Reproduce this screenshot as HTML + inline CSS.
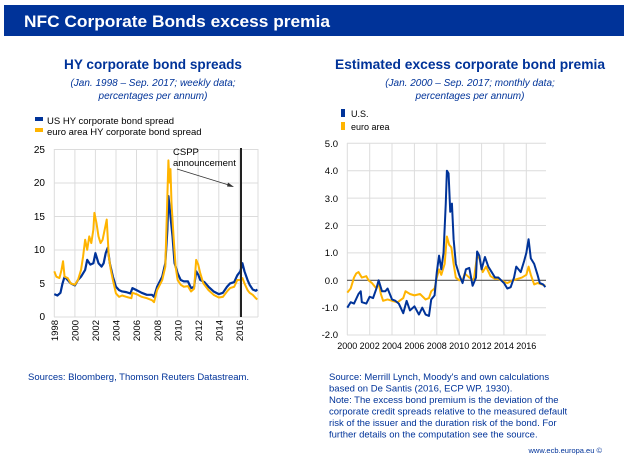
<!DOCTYPE html>
<html><head><meta charset="utf-8"><style>
body{margin:0;background:#fff;width:628px;height:465px;overflow:hidden}
svg{display:block;font-family:"Liberation Sans",sans-serif}
</style></head><body>
<svg width="628" height="465" viewBox="0 0 628 465">
<rect x="4" y="5" width="620" height="31" fill="#003399"/>
<text x="24" y="27" fill="#fff" font-size="17" font-weight="bold" textLength="306" lengthAdjust="spacingAndGlyphs">NFC Corporate Bonds excess premia</text>
<g fill="#003399" text-anchor="middle">
<text x="153" y="69" font-size="14" font-weight="bold" textLength="178" lengthAdjust="spacingAndGlyphs">HY corporate bond spreads</text>
<text x="153" y="86" font-size="10" font-style="italic">(Jan. 1998 – Sep. 2017; weekly data;</text>
<text x="153" y="99" font-size="10" font-style="italic">percentages per annum)</text>
<text x="470" y="69" font-size="14" font-weight="bold" textLength="270" lengthAdjust="spacingAndGlyphs">Estimated excess corporate bond premia</text>
<text x="470" y="86" font-size="10" font-style="italic">(Jan. 2000 – Sep. 2017; monthly data;</text>
<text x="470" y="99" font-size="10" font-style="italic">percentages per annum)</text>
</g>
<rect x="35" y="117" width="8" height="4" fill="#003399"/>
<text x="47" y="124" font-size="9.5" fill="#000">US HY corporate bond spread</text>
<rect x="35" y="128" width="8" height="4" fill="#ffb400"/>
<text x="47" y="135" font-size="9.5" fill="#000">euro area HY corporate bond spread</text>
<g stroke="#dcdcdc" stroke-width="1">
<line x1="54" y1="149.5" x2="258" y2="149.5"/><line x1="54" y1="183" x2="258" y2="183"/><line x1="54" y1="216.5" x2="258" y2="216.5"/><line x1="54" y1="250" x2="258" y2="250"/><line x1="54" y1="283.5" x2="258" y2="283.5"/><line x1="54" y1="317" x2="258" y2="317"/>
<line x1="54.3" y1="149" x2="54.3" y2="317"/><line x1="74.9" y1="149" x2="74.9" y2="317"/><line x1="95.4" y1="149" x2="95.4" y2="317"/><line x1="116" y1="149" x2="116" y2="317"/><line x1="136.5" y1="149" x2="136.5" y2="317"/><line x1="157.1" y1="149" x2="157.1" y2="317"/><line x1="177.7" y1="149" x2="177.7" y2="317"/><line x1="198.2" y1="149" x2="198.2" y2="317"/><line x1="218.8" y1="149" x2="218.8" y2="317"/><line x1="239.3" y1="149" x2="239.3" y2="317"/><line x1="258" y1="149" x2="258" y2="317"/>
</g>
<g font-size="10" fill="#000" text-anchor="end">
<text x="45" y="153">25</text><text x="45" y="186">20</text><text x="45" y="220">15</text><text x="45" y="253">10</text><text x="45" y="287">5</text><text x="45" y="320">0</text>
</g>
<g font-size="9.5" fill="#000" text-anchor="end">
<text transform="translate(58,320) rotate(-90)">1998</text><text transform="translate(78.6,320) rotate(-90)">2000</text><text transform="translate(99.1,320) rotate(-90)">2002</text><text transform="translate(119.7,320) rotate(-90)">2004</text><text transform="translate(140.2,320) rotate(-90)">2006</text><text transform="translate(160.8,320) rotate(-90)">2008</text><text transform="translate(181.4,320) rotate(-90)">2010</text><text transform="translate(201.9,320) rotate(-90)">2012</text><text transform="translate(222.5,320) rotate(-90)">2014</text><text transform="translate(243,320) rotate(-90)">2016</text>
</g>
<g transform="translate(54.3,317) scale(10.28,-6.72)" fill="none" stroke-linejoin="round">
<polyline vector-effect="non-scaling-stroke" stroke="#003399" stroke-width="2.2" points="0,3.4 0.3,3.2 0.6,3.6 0.8,5 1.0,6 1.3,5.5 1.6,5 2,4.7 2.3,5.5 2.6,6 3,7 3.2,8.5 3.5,7.8 3.8,8 4.0,9.5 4.3,8 4.6,7.5 4.8,8 5,9.5 5.2,10.3 5.4,8 5.7,6 6,4.5 6.3,4 6.6,3.8 7,3.7 7.4,3.5 7.6,4.3 8,4 8.5,3.6 9,3.3 9.5,3.3 9.7,3.0 10,4.5 10.5,6 10.8,8 11,13 11.1,18 11.3,15 11.5,12 11.7,8 12,6.5 12.3,5.5 12.6,5.3 13,5.3 13.3,4.3 13.6,4.5 13.8,6.8 14,6.3 14.2,5.5 14.6,5.2 15,4.5 15.5,3.8 16,3.4 16.4,3.6 16.8,4.5 17.1,5 17.5,5.2 17.8,6.2 18.1,6.8 18.3,8 18.5,6.8 18.8,5.5 19,4.8 19.3,4.1 19.6,3.9 19.75,4.1"/>
<polyline vector-effect="non-scaling-stroke" stroke="#ffb400" stroke-width="2" points="0,6.8 0.2,6.0 0.5,5.8 0.7,7 0.85,8.3 1,6 1.3,5.8 1.6,5 2,4.8 2.3,5.5 2.6,7 2.8,9 3,11.5 3.2,10 3.4,12 3.6,11 3.8,13 3.9,15.5 4.1,14 4.3,12 4.5,11 4.7,11.5 4.9,13 5.1,14.5 5.3,9 5.5,7 5.7,5.5 6,3.5 6.3,3 6.6,3.2 7,3 7.5,2.8 7.6,3.6 8,3.4 8.5,3.0 9,2.8 9.5,2.5 9.7,2.2 10,4 10.5,5.5 10.8,7.5 11,18 11.1,23.3 11.2,20 11.3,22 11.4,17 11.6,12 11.8,7.5 12,5.5 12.3,4.8 12.6,4.5 13,4.6 13.3,3.8 13.6,4.2 13.8,8.5 14,7.8 14.2,6.5 14.5,5 15,4 15.5,3.3 16,2.9 16.4,3 16.8,3.8 17.1,4.3 17.5,4.5 17.8,5.5 18.1,5.5 18.3,5.8 18.5,5 18.8,4 19,3.6 19.3,3.3 19.6,2.8 19.75,2.6"/>
</g>
<line x1="241" y1="148" x2="241" y2="317" stroke="#222" stroke-width="2"/>
<text x="173" y="155" font-size="9.5" fill="#000">CSPP</text>
<text x="173" y="166" font-size="9.5" fill="#000">announcement</text>
<line x1="177" y1="169" x2="232" y2="186" stroke="#333" stroke-width="0.8"/>
<path d="M234,187 L228,182.5 L227,186.5 Z" fill="#333"/>
<rect x="341" y="109" width="4" height="8" fill="#003399"/>
<text x="351" y="117" font-size="9" fill="#000">U.S.</text>
<rect x="341" y="122" width="4" height="8" fill="#ffb400"/>
<text x="351" y="130" font-size="9" fill="#000">euro area</text>
<g stroke="#dcdcdc" stroke-width="1">
<line x1="347" y1="143.3" x2="546" y2="143.3"/><line x1="347" y1="170.7" x2="546" y2="170.7"/><line x1="347" y1="198.1" x2="546" y2="198.1"/><line x1="347" y1="225.5" x2="546" y2="225.5"/><line x1="347" y1="252.9" x2="546" y2="252.9"/><line x1="347" y1="307.7" x2="546" y2="307.7"/><line x1="347" y1="335" x2="546" y2="335"/>
<line x1="347.3" y1="143" x2="347.3" y2="335"/><line x1="369.7" y1="143" x2="369.7" y2="335"/><line x1="392" y1="143" x2="392" y2="335"/><line x1="414.4" y1="143" x2="414.4" y2="335"/><line x1="436.8" y1="143" x2="436.8" y2="335"/><line x1="459.2" y1="143" x2="459.2" y2="335"/><line x1="481.6" y1="143" x2="481.6" y2="335"/><line x1="503.9" y1="143" x2="503.9" y2="335"/><line x1="526.3" y1="143" x2="526.3" y2="335"/>
</g>
<line x1="347" y1="280.3" x2="546" y2="280.3" stroke="#555" stroke-width="1.2"/>
<g font-size="9.5" fill="#000" text-anchor="end">
<text x="338" y="147">5.0</text><text x="338" y="174">4.0</text><text x="338" y="202">3.0</text><text x="338" y="229">2.0</text><text x="338" y="256">1.0</text><text x="338" y="284">0.0</text><text x="338" y="311">-1.0</text><text x="338" y="338">-2.0</text>
</g>
<g font-size="9" fill="#000" text-anchor="middle">
<text x="347.3" y="349">2000</text><text x="369.7" y="349">2002</text><text x="392" y="349">2004</text><text x="414.4" y="349">2006</text><text x="436.8" y="349">2008</text><text x="459.2" y="349">2010</text><text x="481.6" y="349">2012</text><text x="503.9" y="349">2014</text><text x="526.3" y="349">2016</text>
</g>
<g transform="translate(347.3,280.3) scale(11.19,-27.4)" fill="none" stroke-linejoin="round">
<polyline vector-effect="non-scaling-stroke" stroke="#ffb400" stroke-width="2" points="0,-0.45 0.3,-0.3 0.6,0.1 0.8,0.25 1,0.3 1.3,0.1 1.7,0.15 1.9,0 2.2,-0.1 2.6,-0.3 2.8,-0.1 3.0,-0.5 3.2,-0.75 3.6,-0.7 4,-0.75 4.5,-0.8 5,-0.65 5.2,-0.4 5.6,-0.5 6,-0.55 6.5,-0.5 7,-0.7 7.3,-0.65 7.5,-0.4 7.8,-0.3 8.0,0.1 8.2,0.4 8.4,0.2 8.7,0.6 8.9,1.6 9.1,1.3 9.3,1.2 9.5,0.6 9.7,0.1 10,0.0 10.3,0 10.5,0.25 10.9,0.1 11.3,0 11.6,0.9 11.8,0.8 12.1,0.3 12.4,0.5 12.8,0.15 13.2,0.05 13.5,0.05 14,-0.05 14.3,-0.1 14.8,0.0 15.2,0.05 15.6,0.1 16.0,0.2 16.2,0.5 16.4,0.2 16.7,-0.15 17,-0.1 17.4,-0.15 17.7,-0.2"/>
<polyline vector-effect="non-scaling-stroke" stroke="#003399" stroke-width="2" points="0,-1 0.3,-0.8 0.6,-0.85 1,-0.5 1.2,-0.4 1.3,-0.8 1.7,-0.85 2,-0.6 2.3,-0.65 2.6,-0.3 2.8,0 3.1,-0.4 3.4,-0.4 3.6,-0.3 4,-0.7 4.3,-0.75 4.6,-0.85 5,-1.2 5.3,-0.75 5.6,-1.1 6,-0.95 6.4,-1.25 6.7,-1.0 7,-1.25 7.3,-1.3 7.5,-0.7 7.8,-0.55 8.0,0.3 8.2,0.9 8.4,0.4 8.6,1.0 8.8,2.8 8.9,4.0 9.05,3.9 9.2,2.5 9.35,2.8 9.5,1.5 9.7,0.6 10,0.2 10.3,-0.1 10.6,0.4 10.9,0.45 11.2,-0.2 11.5,0.1 11.6,1.05 11.8,0.9 12.0,0.4 12.3,0.85 12.6,0.5 12.9,0.3 13.2,0.1 13.5,0.1 14,-0.1 14.3,-0.3 14.6,-0.25 14.9,0.1 15.1,0.5 15.5,0.3 15.8,0.7 16.0,1.0 16.2,1.5 16.4,0.8 16.7,0.6 17,0.2 17.2,-0.1 17.5,-0.15 17.7,-0.25"/>
</g>
<g font-size="9.5" fill="#003399">
<text x="28" y="380">Sources: Bloomberg, Thomson Reuters Datastream.</text>
<text x="329" y="380">Source: Merrill Lynch, Moody's and own calculations</text>
<text x="329" y="391.5">based on De Santis (2016, ECP WP. 1930).</text>
<text x="329" y="403">Note: The excess bond premium is the deviation of the</text>
<text x="329" y="414.5">corporate credit spreads relative to the measured default</text>
<text x="329" y="426">risk of the issuer and the duration risk of the bond. For</text>
<text x="329" y="437.5">further details on the computation see the source.</text>
<text x="602" y="453" font-size="7.5" text-anchor="end">www.ecb.europa.eu ©</text>
</g>
</svg>
</body></html>
